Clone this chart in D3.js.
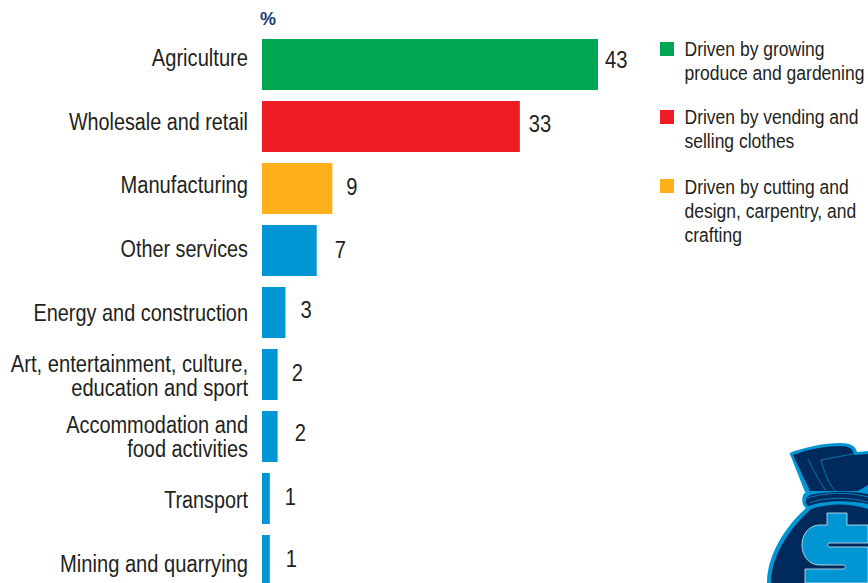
<!DOCTYPE html>
<html><head><meta charset="utf-8">
<script src="https://d3js.org/d3.v7.min.js"></script>
<style>
html,body{margin:0;padding:0;background:#fff;overflow:hidden}
svg{display:block}
text{font-family:"Liberation Sans",Arial,sans-serif;fill:#231f20}
</style></head><body><svg id="c" width="868" height="583"></svg>
<script>
const categories=["Agriculture","Wholesale and retail","Manufacturing","Other services","Energy and construction","Art, entertainment, culture,|education and sport","Accommodation and|food activities","Transport","Mining and quarrying"];
const values=[43,33,9,7,3,2,2,1,1];
const barGroups=["grow","sell","craft","other","other","other","other","other","other"];
const legendKeys=["grow","sell","craft"];
const legendLabels=["Driven by growing|produce and gardening","Driven by vending and|selling clothes","Driven by cutting and|design, carpentry, and|crafting"];
const groupColors={grow:"#00a651",sell:"#ee1c25",craft:"#fdb019",other:"#0095d3"};
// hand-placement nudges of the labels in the original artwork
const labelDx=[7,9,14,18,15,14,17,15,16];
const labelDy=[-4,-2,-1,0,-2,-1,-3,-1,-1];
const categoryDy=[-6.5,-4.5,-3.5,-1.5,0.5,1.5,0.5,1.5,4];
const categoryW=[0.875,0.86,0.875,0.86,0.865,0.875,0.868,0.86,0.875];

const svg=d3.select("#c");
const W=0.875; // condensed look of the original typeface
const x=d3.scaleLinear().domain([0,43]).range([262,598]);
const y=d3.scaleBand().domain(categories).range([39,586]).paddingInner(11/62);

function cond(sel,px,py,anchor,size,w=W){
  return sel.attr("transform",`translate(${px},${py}) scale(${w},1)`).attr("text-anchor",anchor).attr("font-size",size);
}

svg.append("text").attr("x",260).attr("y",25).attr("font-size",18).attr("font-weight","bold").style("fill","#1b3b78").text("%");

svg.selectAll("rect.bar").data(categories).join("rect").attr("class","bar")
  .attr("x",x(0)).attr("y",d=>y(d)).attr("height",y.bandwidth())
  .attr("width",(d,i)=>x(values[i])-x(0)).attr("fill",(d,i)=>groupColors[barGroups[i]]);

categories.forEach((c,i)=>{
  const lines=c.split("|"), cy=y(c)+y.bandwidth()/2+categoryDy[i];
  lines.forEach((l,j)=>{
    cond(svg.append("text"),248,cy+7.5+(j-(lines.length-1)/2)*24,"end",23,categoryW[i]).text(l);
  });
  cond(svg.append("text"),x(values[i])+labelDx[i],y(c)+y.bandwidth()/2+labelDy[i]+7.5,"start",23).text(values[i]);
});

const legendTops=[42,110,179];
legendKeys.forEach((k,i)=>{
  svg.append("rect").attr("x",660).attr("y",legendTops[i]).attr("width",14).attr("height",14).attr("fill",groupColors[k]);
  legendLabels[i].split("|").forEach((l,j)=>{
    cond(svg.append("text"),684.5,legendTops[i]+14+(i==2?1:0)+j*24,"start",20).text(l);
  });
});

// money bag decoration
const bag=svg.append("g");
const outer="M789.5,453 C805,447 825,443 840,443 C850,443 856,446 857,452 L868,451 L868,583 L767,583 C767,555 785,527 806,508 C801,505 801,494 806,492 L805,492 Z";
bag.append("path").attr("d",outer).attr("fill","#0095d3");
bag.append("path").attr("d","M793,455 C808,449 828,446 840,446 C850,446 853,449 854,455 L868,454 L868,485 L858,491 L810,491 Z").attr("fill","#002a5c");
bag.append("path").attr("d","M810,495 C830,491 850,491 868,494 L868,504 C850,500 825,500 808,506 C805,503 805,498 810,495 Z").attr("fill","#002a5c");
bag.append("path").attr("d","M811,509 C830,503 850,503 868,509 L868,583 L771,583 C771,555 790,528 811,509 Z").attr("fill","#002a5c");
bag.append("path").attr("d","M808,498 C825,492 850,492 868,497 M809,503 C825,497 850,497 868,502").attr("fill","none").attr("stroke","#0095d3").attr("stroke-width",0.8);
bag.append("path").attr("d","M808,459 C814,472 820,482 826,491 M821,460 C824,472 829,484 835,491 M821,460 L858,453").attr("fill","none").attr("stroke","#0095d3").attr("stroke-width",0.7);
bag.append("path").attr("d","M827,513 L847,513 L847,525 L868,525 L868,543 L830,543 C827,543 827,547 830,547 L868,547 L868,583 L805,583 L805,569 L843,569 C846,569 846,565 843,565 L820,565 C808,565 802,555 802,545 C802,533 810,525 820,525 L827,525 Z").attr("fill","#0095d3").attr("stroke","#d5e6f2").attr("stroke-width",0.8);
</script></body></html>
